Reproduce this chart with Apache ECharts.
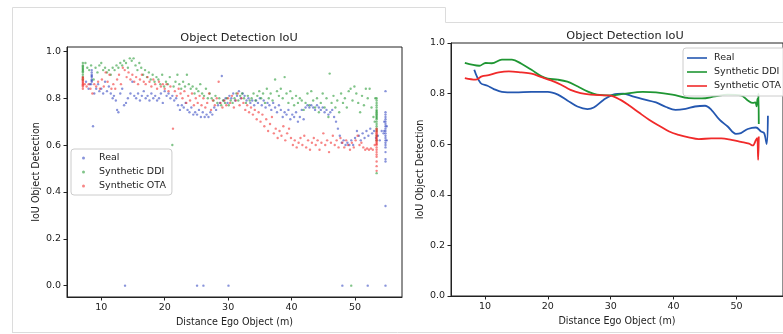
<!DOCTYPE html>
<html>
<head>
<meta charset="utf-8">
<script src="https://cdn.jsdelivr.net/npm/echarts@6/dist/echarts.min.js"></script>
<style>html,body{margin:0;padding:0;background:#fff}#c{width:783px;height:334px}</style>
</head>
<body>
<div id="c"></div>
<script>
// ---------- DATA ----------
const seriesNames = ['Real', 'Synthetic DDI', 'Synthetic OTA'];
const xTicks = [10, 20, 30, 40, 50];
const yTicks = [0, 0.2, 0.4, 0.6, 0.8, 1.0];

// Left panel: scatter points [distance, IoU]
const realPoints = [
[8.5,0.92],[8.5,0.91],[8.5,0.90],[8.5,0.895],[8.5,0.89],[8.5,0.88],[8.5,0.875],[8.5,0.87],[8.4,0.86],
[7.6,0.87],[8.0,0.84],[8.2,0.86],[8.7,0.68],[8.9,0.82],[9.2,0.84],[9.5,0.86],[9.7,0.83],[10.0,0.84],[10.3,0.82],[10.6,0.87],
[10.9,0.83],[11.2,0.85],[11.5,0.82],[11.8,0.80],[12.0,0.81],[12.3,0.79],[12.5,0.75],[12.7,0.74],[13.0,0.82],[13.3,0.84],
[13.6,0.77],[13.9,0.78],[14.2,0.80],[14.6,0.82],[14.9,0.87],[15.2,0.81],[15.5,0.80],[15.8,0.82],[16.1,0.79],[16.4,0.81],
[16.7,0.83],[17.0,0.80],[17.3,0.81],[17.6,0.79],[17.9,0.82],[18.2,0.80],[18.5,0.81],[18.8,0.79],[19.1,0.80],[19.4,0.82],
[19.7,0.78],[20.0,0.83],[20.3,0.81],[20.6,0.82],[20.9,0.80],[21.2,0.81],[21.5,0.79],[21.8,0.80],[22.1,0.77],[22.4,0.75],
[22.7,0.77],[23.0,0.76],[23.3,0.78],[23.6,0.75],[23.9,0.74],[24.2,0.76],[24.5,0.73],[24.8,0.74],[25.1,0.73],[25.4,0.75],
[25.7,0.72],[26.0,0.74],[26.3,0.72],[26.6,0.73],[26.9,0.72],[27.2,0.74],[27.5,0.73],[27.8,0.76],[28.1,0.75],[28.4,0.77],
[28.7,0.78],[29.0,0.895],[29.3,0.79],[29.6,0.80],[29.9,0.78],[30.2,0.81],[30.5,0.80],[30.8,0.82],[31.1,0.79],[31.4,0.81],
[31.7,0.83],[32.0,0.80],[32.3,0.82],[32.6,0.81],[32.9,0.79],[33.2,0.80],[33.5,0.78],[33.8,0.79],[34.1,0.77],[34.4,0.79],
[34.7,0.78],[35.0,0.80],[35.3,0.77],[35.6,0.79],[35.9,0.76],[36.2,0.78],[36.5,0.77],[36.8,0.75],[37.1,0.78],[37.4,0.76],
[37.7,0.74],[38.0,0.77],[38.3,0.75],[38.6,0.72],[38.9,0.74],[39.2,0.73],[39.5,0.75],[39.8,0.71],[40.1,0.73],[40.4,0.72],
[40.7,0.74],[41.0,0.70],[41.3,0.72],[41.6,0.75],[41.9,0.71],[42.2,0.76],[42.5,0.77],[42.8,0.76],[43.1,0.77],[43.4,0.76],
[43.7,0.75],[44.0,0.77],[44.3,0.76],[44.6,0.75],[44.9,0.76],[45.2,0.74],[45.5,0.75],[45.8,0.73],[46.1,0.74],[46.4,0.75],
[46.7,0.72],[47.0,0.70],[47.3,0.67],[47.6,0.64],[47.9,0.61],[48.2,0.62],[48.5,0.60],[48.8,0.61],[49.1,0.60],[49.4,0.62],
[49.7,0.60],[50.0,0.63],[50.3,0.66],[50.6,0.64],[50.9,0.62],[51.2,0.65],[51.5,0.63],[51.8,0.66],[52.1,0.64],[52.4,0.67],
[52.7,0.65],[53.0,0.66],[53.3,0.63],[53.6,0.64],[53.9,0.62],[54.2,0.66],[54.5,0.65],
[54.8,0.74],[54.8,0.73],[54.8,0.72],[54.8,0.71],[54.8,0.70],[54.8,0.69],[54.8,0.68],[54.8,0.67],[54.8,0.66],[54.8,0.65],
[54.8,0.64],[54.8,0.63],[54.8,0.62],[54.8,0.61],[54.8,0.60],[54.8,0.59],[54.8,0.57],[54.8,0.54],[54.8,0.53],[54.8,0.83],
[54.8,0.34],[54.8,0.0],[54.6,0.70],[54.6,0.66],[55.0,0.68],[55.0,0.62],
[13.75,0],[25.1,0],[26.1,0],[30.05,0],[48.0,0],[52.0,0]
];
const ddiPoints = [
[7.1,0.95],[7.1,0.94],[7.1,0.935],[7.1,0.93],[7.1,0.925],[7.1,0.92],[7.1,0.915],[7.1,0.91],[7.1,0.90],[7.1,0.89],[7.1,0.88],
[7.5,0.95],[7.8,0.93],[8.1,0.92],[8.4,0.94],[8.8,0.88],[9.1,0.93],[9.4,0.91],[9.7,0.94],[10.0,0.95],[10.3,0.92],
[10.6,0.93],[10.9,0.91],[11.2,0.92],[11.5,0.90],[11.8,0.93],[12.1,0.92],[12.4,0.94],[12.7,0.93],[13.0,0.95],[13.3,0.94],
[13.6,0.96],[13.9,0.95],[14.2,0.93],[14.5,0.97],[14.8,0.96],[15.1,0.97],[15.4,0.94],[15.7,0.92],[16.0,0.95],[16.3,0.93],
[16.6,0.90],[16.9,0.92],[17.2,0.89],[17.5,0.91],[17.8,0.88],[18.1,0.90],[18.4,0.87],[18.7,0.89],[19.0,0.88],[19.3,0.86],
[19.6,0.90],[19.9,0.85],[20.2,0.87],[20.5,0.86],[20.8,0.89],[21.2,0.60],[21.4,0.85],[21.7,0.87],[22.0,0.90],[22.3,0.86],
[22.6,0.84],[22.9,0.87],[23.2,0.85],[23.5,0.90],[23.8,0.86],[24.1,0.84],[24.4,0.85],[24.7,0.82],[25.0,0.84],[25.3,0.83],
[25.6,0.86],[25.9,0.82],[26.2,0.81],[26.5,0.84],[26.8,0.80],[27.1,0.82],[27.4,0.80],[27.7,0.79],[28.0,0.81],[28.3,0.78],
[28.6,0.80],[28.9,0.77],[29.2,0.79],[29.5,0.78],[29.8,0.80],[30.1,0.77],[30.4,0.79],[30.7,0.78],[31.0,0.80],[31.3,0.82],
[31.6,0.79],[31.9,0.81],[32.2,0.82],[32.5,0.80],[32.8,0.78],[33.1,0.81],[33.4,0.79],[33.7,0.80],[34.0,0.82],[34.3,0.79],
[34.6,0.81],[34.9,0.83],[35.2,0.80],[35.5,0.82],[35.8,0.78],[36.1,0.84],[36.4,0.80],[36.7,0.82],[37.0,0.79],[37.4,0.88],
[37.7,0.83],[38.0,0.81],[38.3,0.84],[38.6,0.80],[38.9,0.89],[39.2,0.82],[39.5,0.78],[39.8,0.83],[40.1,0.80],[40.4,0.77],
[40.7,0.81],[41.0,0.78],[41.3,0.80],[41.6,0.79],[41.9,0.75],[42.2,0.78],[42.5,0.82],[42.8,0.77],[43.1,0.83],[43.4,0.79],
[43.7,0.76],[44.0,0.80],[44.3,0.74],[44.6,0.78],[44.9,0.82],[45.2,0.76],[45.5,0.80],[45.8,0.72],[46.0,0.905],[46.3,0.78],
[46.6,0.81],[46.9,0.76],[47.2,0.79],[47.5,0.74],[47.8,0.82],[48.1,0.78],[48.4,0.80],[48.7,0.76],[49.0,0.83],[49.3,0.84],
[49.6,0.79],[49.9,0.85],[50.2,0.82],[50.5,0.78],[50.8,0.74],[51.1,0.81],[51.4,0.77],[51.7,0.84],[52.0,0.80],[52.3,0.84],
[52.6,0.76],[52.9,0.72],[53.1,0.70],[53.2,0.80],
[53.4,0.80],[53.4,0.79],[53.4,0.78],[53.4,0.77],[53.4,0.76],[53.4,0.75],[53.4,0.745],[53.4,0.74],[53.4,0.735],[53.4,0.73],
[53.4,0.725],[53.4,0.72],[53.4,0.715],[53.4,0.71],[53.4,0.70],[53.4,0.69],[53.4,0.68],[53.4,0.67],[53.4,0.66],[53.4,0.64],
[53.4,0.62],[53.4,0.48],[49.4,0]
];
const otaPoints = [
[7.1,0.89],[7.1,0.885],[7.1,0.88],[7.1,0.875],[7.1,0.87],[7.1,0.865],[7.1,0.86],[7.1,0.855],[7.1,0.85],[7.1,0.84],
[7.4,0.86],[7.7,0.85],[8.0,0.86],[8.3,0.84],[8.6,0.82],[8.9,0.86],[9.2,0.85],[9.5,0.87],[9.8,0.84],[10.1,0.88],
[10.4,0.85],[10.7,0.91],[11.0,0.87],[11.3,0.90],[11.6,0.84],[11.9,0.86],[12.2,0.84],[12.5,0.88],[12.8,0.90],[13.1,0.86],
[13.4,0.93],[13.7,0.92],[14.0,0.89],[14.3,0.91],[14.6,0.88],[14.9,0.90],[15.2,0.87],[15.5,0.89],[15.8,0.86],[16.1,0.88],
[16.4,0.90],[16.7,0.87],[17.0,0.86],[17.3,0.89],[17.6,0.87],[17.9,0.85],[18.2,0.88],[18.5,0.86],[18.8,0.84],[19.1,0.87],
[19.4,0.85],[19.7,0.86],[20.0,0.84],[20.3,0.86],[20.6,0.83],[20.9,0.85],[21.3,0.67],[21.6,0.83],[21.9,0.81],[22.2,0.84],
[22.5,0.82],[22.8,0.80],[23.1,0.83],[23.4,0.78],[23.7,0.81],[24.0,0.79],[24.3,0.82],[24.6,0.77],[24.9,0.80],[25.2,0.78],
[25.5,0.81],[25.8,0.77],[26.1,0.80],[26.4,0.76],[26.7,0.78],[27.0,0.82],[27.3,0.75],[27.6,0.79],[27.9,0.77],[28.2,0.80],
[28.5,0.87],[28.8,0.78],[29.1,0.76],[29.4,0.79],[29.7,0.77],[30.0,0.80],[30.3,0.78],[30.6,0.81],[30.9,0.76],[31.2,0.79],
[31.5,0.82],[31.8,0.77],[32.1,0.80],[32.4,0.78],[32.7,0.75],[33.0,0.77],[33.3,0.74],[33.6,0.76],[33.9,0.73],[34.2,0.75],
[34.5,0.71],[34.8,0.74],[35.1,0.70],[35.4,0.73],[35.7,0.68],[36.0,0.71],[36.3,0.66],[36.6,0.69],[36.9,0.72],[37.2,0.65],
[37.5,0.67],[37.8,0.63],[38.1,0.66],[38.4,0.64],[38.7,0.68],[39.0,0.62],[39.3,0.65],[39.6,0.67],[39.9,0.63],[40.2,0.60],
[40.5,0.62],[40.8,0.59],[41.1,0.61],[41.4,0.63],[41.7,0.60],[42.0,0.64],[42.3,0.59],[42.6,0.62],[42.9,0.58],[43.2,0.61],
[43.5,0.63],[43.8,0.60],[44.1,0.62],[44.4,0.58],[44.7,0.61],[45.0,0.65],[45.3,0.60],[45.6,0.62],[45.9,0.57],[46.2,0.61],
[46.5,0.64],[46.8,0.60],[47.1,0.62],[47.4,0.59],[47.7,0.63],[48.0,0.61],[48.3,0.59],[48.6,0.62],[48.9,0.60],[49.2,0.58],
[49.5,0.61],[49.8,0.59],[50.1,0.62],[50.4,0.64],[50.7,0.60],[51.0,0.61],[51.3,0.59],[51.6,0.58],[51.9,0.585],[52.2,0.58],
[52.5,0.585],[52.8,0.58],[53.1,0.60],
[53.4,0.67],[53.4,0.665],[53.4,0.66],[53.4,0.655],[53.4,0.65],[53.4,0.645],[53.4,0.64],[53.4,0.635],[53.4,0.63],[53.4,0.625],
[53.4,0.62],[53.4,0.615],[53.4,0.61],[53.4,0.605],[53.4,0.60],[53.4,0.59],[53.4,0.58],[53.4,0.57],[53.4,0.56],[53.4,0.55],
[53.4,0.53],[53.4,0.51],[53.4,0.49]
];

// Right panel: smoothed curves [distance, IoU]
const realCurve = [
[8.3,0.894],[9.3,0.842],[10.4,0.831],[11.4,0.818],[12.7,0.807],[14.8,0.805],[17.4,0.807],[20.0,0.807],[21.6,0.796],
[23.1,0.773],[24.7,0.749],[26.3,0.739],[27.3,0.745],[28.9,0.776],[30.4,0.796],[32.0,0.800],[33.5,0.789],[35.1,0.778],
[37.2,0.765],[38.8,0.747],[40.3,0.736],[41.9,0.740],[43.4,0.749],[45.0,0.752],[46.0,0.736],[47.3,0.697],[48.6,0.670],
[49.9,0.641],[50.7,0.644],[51.8,0.660],[53.1,0.666],[53.9,0.650],[54.4,0.644],[54.8,0.600],[55.0,0.712]
];
const ddiCurve = [
[6.8,0.921],[9.1,0.910],[10.1,0.921],[11.1,0.920],[12.7,0.934],[14.3,0.934],[15.8,0.918],[17.4,0.894],[19.0,0.868],
[20.0,0.859],[21.6,0.855],[23.1,0.847],[24.7,0.829],[26.3,0.809],[27.8,0.796],[29.9,0.793],[32.0,0.799],[35.1,0.807],
[37.2,0.805],[39.8,0.796],[42.4,0.782],[44.5,0.781],[46.6,0.789],[48.6,0.796],[50.7,0.793],[51.8,0.773],[52.6,0.763],
[53.0,0.765],[53.2,0.750],[53.35,0.780],[53.45,0.760],[53.5,0.800],[53.55,0.680]
];
const otaCurve = [
[6.8,0.861],[8.5,0.855],[9.5,0.868],[10.6,0.873],[12.2,0.884],[13.8,0.888],[15.8,0.884],[17.4,0.879],[19.0,0.865],
[20.5,0.852],[22.1,0.835],[23.6,0.815],[25.2,0.802],[26.8,0.796],[28.9,0.793],[29.9,0.792],[31.5,0.776],[33.0,0.752],
[34.6,0.723],[36.1,0.697],[37.7,0.673],[39.3,0.650],[40.8,0.637],[42.4,0.627],[44.0,0.620],[46.0,0.623],[47.6,0.623],
[49.2,0.617],[50.7,0.609],[52.0,0.602],[52.6,0.595],[53.1,0.617],[53.3,0.624],[53.45,0.538],[53.55,0.630]
];

// ---------- CHART ----------
const FONT = 'DejaVu Sans';
const scatterColors = ['rgba(45,65,190,0.7)', 'rgba(30,150,45,0.7)', 'rgba(240,40,40,0.7)'];
const lineColors = ['#2457b0', '#1f9633', '#f02a2a'];
const labelStyle = {color: '#222', fontFamily: FONT, fontSize: 9.5};

function xAx(gi) {
  return {
    type: 'value', gridIndex: gi, min: 4.6, max: 57.4,
    name: 'Distance Ego Object (m)', nameLocation: 'middle', nameGap: 19,
    nameTextStyle: {color: '#222', fontFamily: FONT, fontSize: 9.6},
    axisLine: {show: true, onZero: false, lineStyle: {color: '#222', width: 1}},
    axisTick: {show: true, length: 3.5, customValues: xTicks, lineStyle: {color: '#222'}},
    axisLabel: Object.assign({customValues: xTicks, margin: 6, formatter: v => String(v)}, labelStyle),
    splitLine: {show: false}
  };
}
function yAx(gi, mn, mx, gap) {
  return {
    type: 'value', gridIndex: gi, min: mn, max: mx,
    name: 'IoU Object Detection', nameLocation: 'middle', nameGap: gap,
    nameTextStyle: {color: '#222', fontFamily: FONT, fontSize: 9.6},
    axisLine: {show: true, onZero: false, lineStyle: {color: '#222', width: 1}},
    axisTick: {show: true, length: 3.5, customValues: yTicks, lineStyle: {color: '#222'}},
    axisLabel: Object.assign({customValues: yTicks, margin: 6, formatter: v => Number(v).toFixed(1)}, labelStyle),
    splitLine: {show: false}
  };
}

const chart = echarts.init(document.getElementById('c'), null, {renderer: 'canvas'});
const pts = [realPoints, ddiPoints, otaPoints];
const curves = [realCurve, ddiCurve, otaCurve];
const series = [];
seriesNames.forEach((n, i) => {
  series.push({
    name: n, type: 'scatter', xAxisIndex: 0, yAxisIndex: 0, data: pts[i],
    symbolSize: 2.4, itemStyle: {color: scatterColors[i]}, silent: true, animation: false
  });
});
seriesNames.forEach((n, i) => {
  series.push({
    name: n, type: 'line', xAxisIndex: 1, yAxisIndex: 1, data: curves[i],
    smooth: 0.35, showSymbol: false, symbol: 'none',
    lineStyle: {color: lineColors[i], width: 1.8}, itemStyle: {color: lineColors[i]},
    silent: true, animation: false
  });
});

chart.setOption({
  backgroundColor: '#fff',
  animation: false,
  textStyle: {fontFamily: FONT},
  title: [
    {text: 'Object Detection IoU', left: 234, top: 28, textAlign: 'center',
     textStyle: {fontFamily: FONT, fontSize: 11.3, fontWeight: 'normal', color: '#222'}},
    {text: 'Object Detection IoU', left: 620, top: 26, textAlign: 'center',
     textStyle: {fontFamily: FONT, fontSize: 11.3, fontWeight: 'normal', color: '#222'}}
  ],
  grid: [
    {left: 67, top: 47, width: 335, height: 250, show: true, borderColor: '#222', borderWidth: 1, backgroundColor: 'transparent'},
    {left: 451, top: 43, width: 338, height: 253, show: true, borderColor: '#222', borderWidth: 1, backgroundColor: 'transparent'}
  ],
  xAxis: [xAx(0), xAx(1)],
  yAxis: [yAx(0, -0.0485, 1.0185, 26), yAx(1, 0, 1, 25)],
  legend: [
    {
      orient: 'vertical', left: 71, top: 149, padding: [4, 6, 4, 11], itemGap: 4,
      itemWidth: 3, itemHeight: 3, icon: 'circle',
      backgroundColor: 'rgba(255,255,255,0.85)', borderColor: '#ccc', borderWidth: 1, borderRadius: 3,
      textStyle: {fontFamily: FONT, fontSize: 9.5, color: '#222', padding: [0, 0, 0, 9]},
      data: seriesNames.map((n, i) => ({name: n, itemStyle: {color: scatterColors[i]}})),
      selectedMode: false
    },
    {
      orient: 'vertical', left: 683, top: 48, padding: [5, 6, 5, 4], itemGap: 4,
      itemWidth: 20, itemHeight: 2, icon: 'rect',
      backgroundColor: 'rgba(255,255,255,0.85)', borderColor: '#ccc', borderWidth: 1, borderRadius: 3,
      textStyle: {fontFamily: FONT, fontSize: 9.5, color: '#222', padding: [0, 0, 0, 2]},
      data: seriesNames.map((n, i) => ({name: n, itemStyle: {color: lineColors[i]}})),
      selectedMode: false
    }
  ],
  graphic: [
    {type: 'polyline', silent: true, shape: {points: [[12.5, 333], [12.5, 7.5], [445.5, 7.5], [445.5, 22.5], [783, 22.5]]},
     style: {stroke: '#dcdcdc', fill: null, lineWidth: 1}},
    {type: 'line', silent: true, shape: {x1: 12, y1: 332.5, x2: 783, y2: 332.5}, style: {stroke: '#dcdcdc', lineWidth: 1}}
  ],
  series: series
});
</script>
</body>
</html>
